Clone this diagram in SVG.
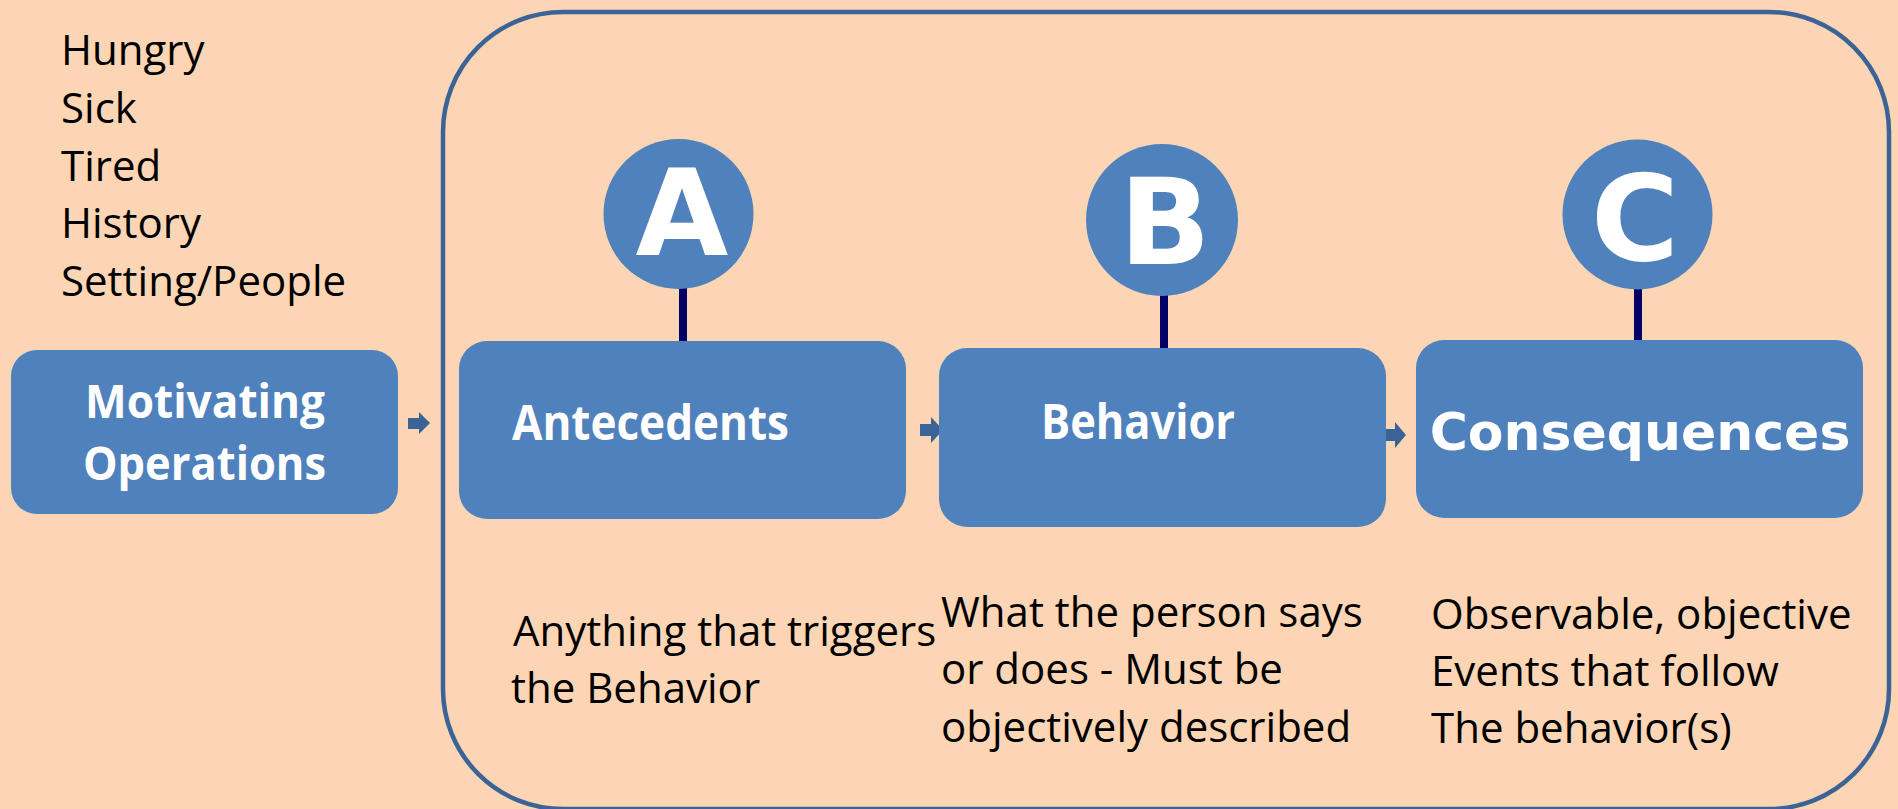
<svg xmlns="http://www.w3.org/2000/svg" width="1898" height="809" viewBox="0 0 1898 809">
<style>
.bg{fill:#FCD5B5}
.box{fill:#4F81BD}
.circ{fill:#4F81BD}
.stem{stroke:#000066;stroke-width:8}
.arrow{fill:#3B6396}
.t{font-family:"Open Sans","Liberation Sans",sans-serif;font-size:42px;fill:#000}
.w{font-family:"Open Sans","Liberation Sans",sans-serif;font-weight:bold;fill:#fff}
.big{font-family:"DejaVu Sans","Verdana",sans-serif;font-weight:bold;fill:#fff;text-anchor:middle}
</style>
<rect class="bg" x="0" y="0" width="1898" height="809"/>
<g id="container">
<rect x="443" y="12" width="1446" height="797" rx="120" ry="120" fill="none" stroke="#3B6396" stroke-width="4.5"/>
</g>
<g id="factors">
<text class="t" x="61" y="65">Hungry</text>
<text class="t" x="61" y="123">Sick</text>
<text class="t" x="61" y="181">Tired</text>
<text class="t" x="61" y="238">History</text>
<text class="t" x="61" y="296">Setting/People</text>
</g>
<g id="connectors">
<line class="stem" x1="683" y1="285" x2="683" y2="341"/>
<line class="stem" x1="1164" y1="292" x2="1164" y2="377"/>
<line class="stem" x1="1638" y1="286" x2="1638" y2="340"/>
<path class="arrow" d="M408,418 L419,418 L419,412 L430,423 L419,434 L419,429 L408,429 Z"/>
<path class="arrow" d="M920,424 L931,424 L931,417 L943,430 L931,443 L931,436 L920,436 Z"/>
<path class="arrow" d="M1384,429 L1395,429 L1395,422 L1406,435 L1395,448 L1395,441 L1384,441 Z"/>
</g>
<g id="motivating">
<rect class="box" x="11" y="350" width="387" height="164" rx="26"/>
<text class="w" x="85" y="418" font-size="46" textLength="240" lengthAdjust="spacingAndGlyphs">Motivating</text>
<text class="w" x="83" y="480" font-size="46" textLength="243" lengthAdjust="spacingAndGlyphs">Operations</text>
</g>
<g id="antecedents">
<rect class="box" x="459" y="341" width="447" height="178" rx="28"/>
<text class="w" x="512" y="440" font-size="48" textLength="277" lengthAdjust="spacingAndGlyphs">Antecedents</text>
</g>
<g id="behavior">
<rect class="box" x="939" y="348" width="447" height="179" rx="28"/>
<text class="w" x="1041" y="439" font-size="48" textLength="194" lengthAdjust="spacingAndGlyphs">Behavior</text>
</g>
<g id="consequences">
<rect class="box" x="1416" y="340" width="447" height="178" rx="28"/>
<text class="big" x="1640" y="450" font-size="52">Consequences</text>
</g>
<g id="circleA">
<circle class="circ" cx="678.5" cy="214" r="75"/>
<text class="big" x="682" y="255" font-size="120">A</text>
</g>
<g id="circleB">
<circle class="circ" cx="1162" cy="220" r="76"/>
<text class="big" x="1165" y="264" font-size="120">B</text>
</g>
<g id="circleC">
<circle class="circ" cx="1637.5" cy="214.5" r="75"/>
<text class="big" x="1635" y="260" font-size="120">C</text>
</g>
<g id="descriptions">
<text class="t" x="513" y="646">Anything that triggers</text>
<text class="t" x="511" y="703">the Behavior</text>
<text class="t" x="941" y="627">What the person says</text>
<text class="t" x="941" y="684">or does - Must be</text>
<text class="t" x="941" y="742">objectively described</text>
<text class="t" x="1431" y="629">Observable, objective</text>
<text class="t" x="1431" y="686">Events that follow</text>
<text class="t" x="1431" y="743">The behavior(s)</text>
</g>
</svg>
